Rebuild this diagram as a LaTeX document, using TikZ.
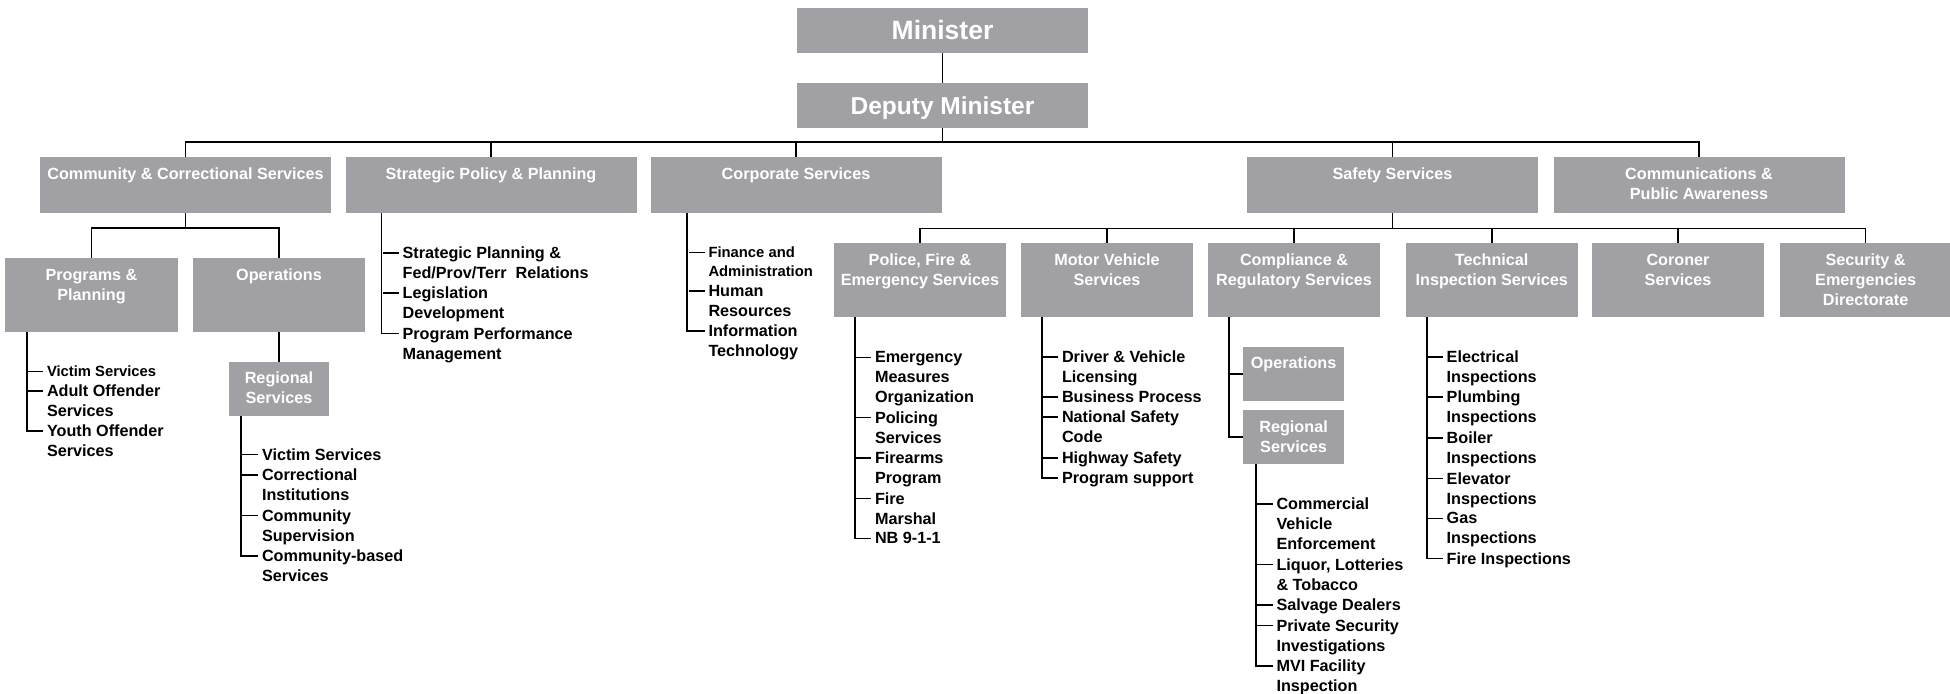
\documentclass[tikz,border=0pt]{standalone}
\usepackage{fontspec}
\setmainfont{Liberation Sans}
\usetikzlibrary{positioning}
\definecolor{unitgray}{RGB}{161,160,165}
\newcommand{\boxfont}{\fontsize{16.2}{20.2}\selectfont\bfseries}
\newcommand{\dutyfont}{\fontsize{16.2}{20.2}\selectfont\bfseries}
\newcommand{\smallduty}{\fontsize{14.8}{19.5}\selectfont\bfseries}
\tikzset{
    head/.style={
        rectangle,
        fill=unitgray,
        text=white,
        minimum width=291pt,
        minimum height=45pt,
        inner sep=0pt,
        outer sep=0pt,
        text height=17.5pt,
        text depth=0pt,
        font=\fontsize{24.5}{29}\selectfont\bfseries
    },
    office/.style 2 args={
        rectangle,
        fill=unitgray,
        text=white,
        inner sep=0pt,
        outer sep=0pt,
        anchor=north west,
        execute at begin node={\begin{minipage}[t][#2][t]{#1}\centering\boxfont\rule{0pt}{22pt}},
        execute at end node={\end{minipage}}
    },
    duty/.style={
        anchor=north west,
        inner sep=0pt,
        outer sep=0pt,
        align=left,
        font=\dutyfont
    }
}

\begin{document}
\begin{tikzpicture}[x=1pt, y=-1pt, line width=1.6pt]
    \useasboundingbox (0,0) rectangle (1950,693);

    % Minister and deputy
    \node[head, text height=19pt, font=\fontsize{26.5}{31}\selectfont\bfseries] (min) at (942.5,30.5) {Minister};
    \node[head, below=30pt of min] (dep) {Deputy Minister};
    \draw (min) -- (dep);

    % Divisions
    \node[office={291pt}{56pt}] (ccs) at (40,157) {Community \& Correctional Services};
    \node[office={291pt}{56pt}, right=14.5pt of ccs] (spp) {Strategic Policy \& Planning};
    \node[office={291pt}{56pt}, right=14pt of spp] (cps) {Corporate Services};
    \node[office={291pt}{56pt}] (sfs) at (1247,157) {Safety Services};
    \node[office={291pt}{56pt}, right=15.5pt of sfs] (cpa) {Communications \&\\Public Awareness};
    \foreach \d in {ccs,spp,cps,sfs,cpa}
        \draw (dep.south) |- ([yshift=15pt]\d.north) -- (\d.north);

    % Community & Correctional Services
    \node[office={173pt}{74pt}] (ppl) at (5,258) {Programs \&\\Planning};
    \node[office={172pt}{74pt}, right=15pt of ppl] (opc) {Operations};
    \node[office={100.5pt}{54pt}, below=29.7pt of opc] (rsc) {Regional\\Services};
    \foreach \u in {ppl,opc}
        \draw (ccs.south) |- ([yshift=30pt]\u.north) -- (\u.north);
    \draw (opc.south) -- (opc.south |- rsc.north);

    \node[duty, font=\smallduty] (ppl1) at (47,365.6) {Victim Services};
    \node[duty] (ppl2) at (47,384.7) {Adult Offender\\Services};
    \node[duty] (ppl3) at (47,425) {Youth Offender\\Services};
    \foreach \i in {ppl1,ppl2}
        \draw ([shift={(-4pt,-6pt)}]\i.north west) -- ++(-16,0);
    \draw ([xshift=22pt]ppl.south west) |- ([shift={(-4pt,-6pt)}]ppl3.north west);

    \node[duty] (rsc1) at (262,448.5) {Victim Services};
    \node[duty] (rsc2) at (262,469) {Correctional\\Institutions};
    \node[duty] (rsc3) at (262,509.5) {Community\\Supervision};
    \node[duty] (rsc4) at (262,550) {Community-based\\Services};
    \foreach \i in {rsc1,rsc2,rsc3}
        \draw ([shift={(-4pt,-6pt)}]\i.north west) -- ++(-16,0);
    \draw ([xshift=12.5pt]rsc.south west) |- ([shift={(-4pt,-6pt)}]rsc4.north west);

    % Strategic Policy & Planning
    \node[duty] (spp1) at (402.6,246.7) {Strategic Planning \&\\Fed/Prov/Terr\ \ Relations};
    \node[duty] (spp2) at (402.6,286.7) {Legislation\\Development};
    \node[duty] (spp3) at (402.6,327.3) {Program Performance\\Management};
    \foreach \i in {spp1,spp2}
        \draw ([shift={(-4pt,-6pt)}]\i.north west) -- ++(-16,0);
    \draw ([xshift=36pt]spp.south west) |- ([shift={(-4pt,-6pt)}]spp3.north west);

    % Corporate Services
    \node[duty, font=\smallduty] (cps1) at (708.5,246.3) {Finance and\\Administration};
    \node[duty] (cps2) at (708.5,285) {Human\\Resources};
    \node[duty] (cps3) at (708.5,325) {Information\\Technology};
    \foreach \i in {cps1,cps2}
        \draw ([shift={(-4pt,-6pt)}]\i.north west) -- ++(-16,0);
    \draw ([xshift=36.5pt]cps.south west) |- ([shift={(-4pt,-6pt)}]cps3.north west);

    % Safety Services
    \node[office={172pt}{73.5pt}] (pfe) at (834,243.3) {Police, Fire \&\\Emergency Services};
    \node[office={172pt}{73.5pt}, right=15pt of pfe] (mvs) {Motor Vehicle\\Services};
    \node[office={172pt}{73.5pt}, right=15pt of mvs] (crs) {Compliance \&\\Regulatory Services};
    \node[office={172pt}{73.5pt}, right=25.7pt of crs] (tis) {Technical\\Inspection Services};
    \node[office={172pt}{73.5pt}, right=14.3pt of tis] (cor) {Coroner\\Services};
    \node[office={172pt}{73.5pt}, right=15.6pt of cor] (sed) {Security \&\\Emergencies\\Directorate};
    \foreach \s in {pfe,mvs,crs,tis,cor,sed}
        \draw (sfs.south) |- ([yshift=15pt]\s.north) -- (\s.north);

    \node[duty] (pfe1) at (875,351.3) {Emergency\\Measures\\Organization};
    \node[duty] (pfe2) at (875,411.3) {Policing\\Services};
    \node[duty] (pfe3) at (875,451.7) {Firearms\\Program};
    \node[duty] (pfe4) at (875,492.3) {Fire\\Marshal};
    \node[duty] (pfe5) at (875,532.5) {NB 9-1-1};
    \foreach \i in {pfe1,pfe2,pfe3,pfe4}
        \draw ([shift={(-4pt,-6pt)}]\i.north west) -- ++(-16,0);
    \draw ([xshift=21pt]pfe.south west) |- ([shift={(-4pt,-6pt)}]pfe5.north west);

    \node[duty] (mvs1) at (1062,351) {Driver \& Vehicle\\Licensing};
    \node[duty] (mvs2) at (1062,391) {Business Process};
    \node[duty] (mvs3) at (1062,411) {National Safety\\Code};
    \node[duty] (mvs4) at (1062,451.7) {Highway Safety};
    \node[duty] (mvs5) at (1062,472) {Program support};
    \foreach \i in {mvs1,mvs2,mvs3,mvs4}
        \draw ([shift={(-4pt,-6pt)}]\i.north west) -- ++(-16,0);
    \draw ([xshift=20.7pt]mvs.south west) |- ([shift={(-4pt,-6pt)}]mvs5.north west);

    \node[office={100.5pt}{54pt}] (cop) at (1243.3,346.7) {Operations};
    \node[office={100.5pt}{54pt}, below=9.3pt of cop] (crg) {Regional\\Services};
    \draw ([xshift=21pt]crs.south west) |- (cop.west);
    \draw ([xshift=21pt]crs.south west) |- (crg.west);

    \node[duty] (crg1) at (1276.5,497.7) {Commercial\\Vehicle\\Enforcement};
    \node[duty] (crg2) at (1276.5,558.3) {Liquor, Lotteries\\\& Tobacco};
    \node[duty] (crg3) at (1276.5,599) {Salvage Dealers};
    \node[duty] (crg4) at (1276.5,619.3) {Private Security\\Investigations};
    \node[duty] (crg5) at (1276.5,659.7) {MVI Facility\\Inspection};
    \foreach \i in {crg1,crg2,crg3,crg4}
        \draw ([shift={(-4pt,-6pt)}]\i.north west) -- ++(-16,0);
    \draw ([xshift=12.7pt]crg.south west) |- ([shift={(-4pt,-6pt)}]crg5.north west);

    \node[duty] (tis1) at (1446.7,351) {Electrical\\Inspections};
    \node[duty] (tis2) at (1446.7,391) {Plumbing\\Inspections};
    \node[duty] (tis3) at (1446.7,431.7) {Boiler\\Inspections};
    \node[duty] (tis4) at (1446.7,472.3) {Elevator\\Inspections};
    \node[duty] (tis5) at (1446.7,512.3) {Gas\\Inspections};
    \node[duty] (tis6) at (1446.7,552.3) {Fire Inspections};
    \foreach \i in {tis1,tis2,tis3,tis4,tis5}
        \draw ([shift={(-4pt,-6pt)}]\i.north west) -- ++(-16,0);
    \draw ([xshift=21pt]tis.south west) |- ([shift={(-4pt,-6pt)}]tis6.north west);
\end{tikzpicture}
\end{document}
